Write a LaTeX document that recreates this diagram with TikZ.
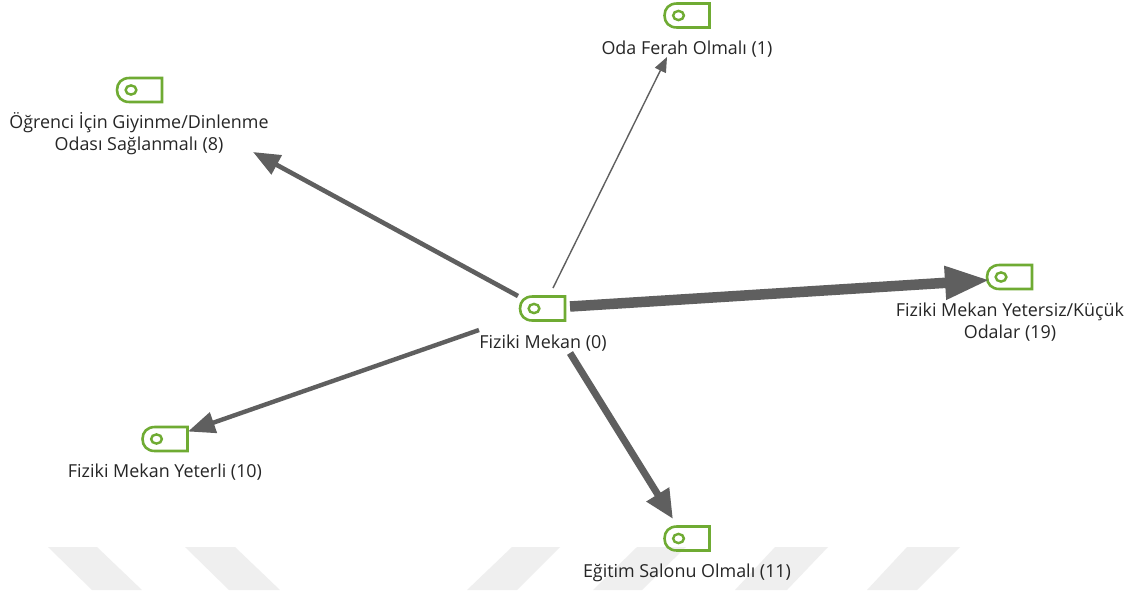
\documentclass[tikz,border=0pt]{standalone}
\usepackage{fontspec}
\setmainfont{Open Sans}
\usetikzlibrary{arrows.meta}
\definecolor{tagg}{HTML}{6FAB33}
\definecolor{conn}{HTML}{5F5F5F}
\definecolor{wm}{HTML}{EFEFEF}
\tikzset{
  x=1pt,y=-1pt,
  tagbox/.style={inner sep=0pt,outer sep=0pt,minimum width=45pt,minimum height=24pt},
  tagline/.style={draw=tagg,line width=2.6pt,line join=miter},
  lab/.style={inner sep=0pt,align=center,font=\fontsize{17.9}{22}\selectfont,text=black!85},
  link/.style={draw=conn}
}
\newcommand{\tagat}[3]{%
  \node[tagbox] (#1) at (#2,#3) {};
  \begin{scope}[shift={(#2,#3)}]
    \draw[tagline] (22.5,-12) -- (-10,-12) .. controls (-18,-12) and (-22.5,-7) .. (-22.5,0)
      .. controls (-22.5,7) and (-18,12) .. (-10,12) -- (22.5,12) -- cycle;
    \draw[draw=tagg,line width=2.4pt] (-8.5,0) ellipse (5.4pt and 4.6pt);
  \end{scope}}
\begin{document}
\begin{tikzpicture}
\useasboundingbox (0,0) rectangle (1131,590);
\fill[white] (0,0) rectangle (1131,590);
% watermark
\fill[wm] (48,547) -- (97,547) -- (142,590) -- (92,590) -- cycle;
\fill[wm] (185,547) -- (235,547) -- (280,590) -- (229,590) -- cycle;
\fill[wm] (512,547) -- (560,547) -- (517,590) -- (467,590) -- cycle;
\fill[wm] (637,547) -- (686,547) -- (642,590) -- (593,590) -- cycle;
\fill[wm] (775,547) -- (828,547) -- (787,590) -- (735,590) -- cycle;
\fill[wm] (907,547) -- (960,547) -- (917,590) -- (867,590) -- cycle;
% tags
\tagat{hub}{542.5}{308.5}
\tagat{oda}{687}{15.5}
\tagat{ogr}{139.5}{90}
\tagat{kucuk}{1009.5}{277}
\tagat{yet}{165}{439}
\tagat{egt}{687}{538.5}
% labels
\node[lab] (lhub) at (543,343) {Fiziki Mekan (0)};
\node[lab] (loda) at (687,49.5) {Oda Ferah Olmalı (1)};
\node[lab] (logr) at (139,134) {Öğrenci İçin Giyinme/Dinlenme\\Odası Sağlanmalı (8)};
\node[lab] (lkuc) at (1010,322) {Fiziki Mekan Yetersiz/Küçük\\Odalar (19)};
\node[lab] (lyet) at (165,472.5) {Fiziki Mekan Yeterli (10)};
\node[lab] (legt) at (687,572.5) {Eğitim Salonu Olmalı (11)};
% connector ends
\coordinate (s1) at (553,288); \coordinate (e1) at (667,57);
\coordinate (s2) at (518,296); \coordinate (e2) at (253,152);
\coordinate (s3) at (479,330); \coordinate (e3) at (188,431.5);
\coordinate (s4) at (570,353); \coordinate (e4) at (673,519);
\coordinate (s5) at (570,306.5); \coordinate (e5) at (990,280);
\draw[link,line width=1.4pt,-{Triangle[length=15pt,width=12pt]}] (s1) -- (e1);
\draw[link,line width=4.6pt,-{Triangle[length=27pt,width=21pt]}] (s2) -- (e2);
\draw[link,line width=4.4pt,-{Triangle[length=27pt,width=21pt]}] (s3) -- (e3);
\draw[link,line width=7pt,-{Triangle[length=29pt,width=25pt]}] (s4) -- (e4);
\draw[link,line width=10.5pt,-{Triangle[length=45pt,width=31pt]}] (s5) -- (e5);
\end{tikzpicture}
\end{document}
